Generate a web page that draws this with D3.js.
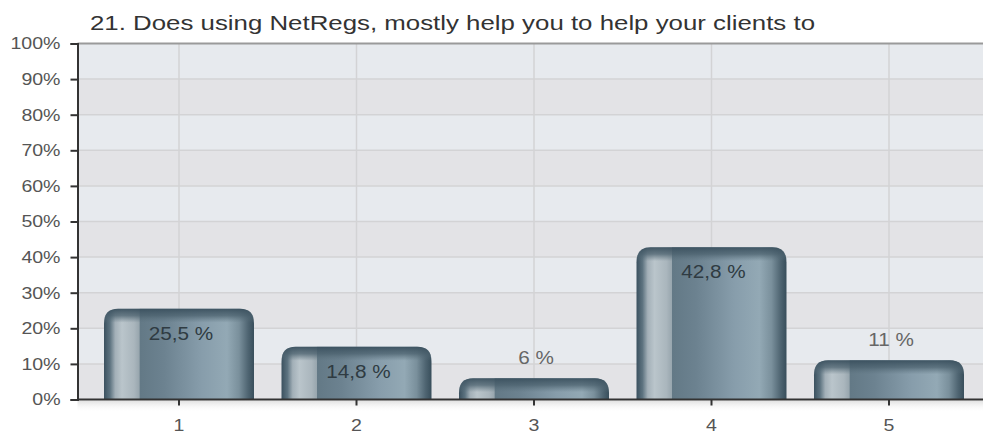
<!DOCTYPE html>
<html><head><meta charset="utf-8">
<script src="https://cdn.jsdelivr.net/npm/d3@7"></script>
<style>
html,body{margin:0;padding:0;background:#fff;}
svg{display:block;font-family:"Liberation Sans",Arial,sans-serif;}
</style></head>
<body>
<svg id="chart" width="983" height="435"></svg>
<script>
const title = "21. Does using NetRegs, mostly help you to help your clients to";
const categories = ["1","2","3","4","5"];
const values = [25.5, 14.8, 6, 42.8, 11];
const valueLabels = ["25,5 %","14,8 %","6 %","42,8 %","11 %"];
const yTicks = [0,10,20,30,40,50,60,70,80,90,100];

(function(){
const svg = d3.select("#chart");
const pLeft = 77.5, pTop = 43.5, pBottom = 399.5, pRight = 983;
const STRETCH = 1.15;
function stretch(sel, factor) {
  sel.each(function(){
    const len = this.getComputedTextLength();
    d3.select(this).attr("textLength", len*factor).attr("lengthAdjust","spacingAndGlyphs");
  });
}

const x = d3.scaleBand().domain(categories).range([90.25, 977.75]).padding(0);
const y = d3.scaleLinear().domain([0,100]).range([pBottom, pTop]);

const defs = svg.append("defs");
const g1 = defs.append("linearGradient").attr("id","barGrad").attr("x1","0").attr("x2","1").attr("y1","0").attr("y2","0");
[[0,"#3b515f"],[0.04,"#5d7380"],[0.075,"#a3b0b8"],[0.12,"#bac5cb"],[0.2,"#aab6bd"],[0.235,"#98a6ae"],[0.24,"#637986"],[0.4,"#6c8290"],[0.65,"#879dab"],[0.82,"#93a9b5"],[0.9,"#7a909c"],[0.96,"#4f6572"],[1,"#384e5b"]]
  .forEach(([o,c]) => g1.append("stop").attr("offset",o).attr("stop-color",c));
const g2 = defs.append("linearGradient").attr("id","capGrad").attr("x1","0").attr("x2","0").attr("y1","0").attr("y2","1");
[[0,"#3a505e",0.95],[0.5,"#4a606d",0.75],[1,"#5a707c",0]].forEach(([o,c,a]) => g2.append("stop").attr("offset",o).attr("stop-color",c).attr("stop-opacity",a));
const g3 = defs.append("linearGradient").attr("id","shadowGrad").attr("x1","0").attr("x2","0").attr("y1","0").attr("y2","1");
[[0,"#d8d8d8",0.8],[1,"#ffffff",0]].forEach(([o,c,a]) => g3.append("stop").attr("offset",o).attr("stop-color",c).attr("stop-opacity",a));

for (let i = 0; i < yTicks.length - 1; i++) {
  svg.append("rect").attr("x", pLeft).attr("width", pRight-pLeft)
    .attr("y", y(yTicks[i+1])).attr("height", y(yTicks[i]) - y(yTicks[i+1]))
    .attr("fill", i % 2 === 1 ? "#e7eaee" : "#e3e3e6");
}
svg.append("g").selectAll("line").data(yTicks.slice(1,-1)).join("line")
  .attr("x1", pLeft).attr("x2", pRight).attr("y1", d=>y(d)).attr("y2", d=>y(d))
  .attr("stroke","#d3d3d5").attr("stroke-width",1.5);
svg.append("g").selectAll("line").data(categories).join("line")
  .attr("x1", d=>x(d)+x.bandwidth()/2).attr("x2", d=>x(d)+x.bandwidth()/2)
  .attr("y1", pTop).attr("y2", pBottom)
  .attr("stroke","#d3d3d5").attr("stroke-width",1.5);
svg.append("line").attr("x1",pLeft).attr("x2",pRight).attr("y1",pTop).attr("y2",pTop).attr("stroke","#9a9a9a").attr("stroke-width",2);
svg.append("rect").attr("x",pLeft).attr("width",pRight-pLeft).attr("y",pBottom+1).attr("height",12).attr("fill","url(#shadowGrad)");

const bw = x.bandwidth() * 0.845;
const r = 15;
function barPath(x0, y0, w, h) {
  const rr = Math.min(r, h, w/2);
  return `M${x0},${y0+h} L${x0},${y0+rr} Q${x0},${y0} ${x0+rr},${y0} L${x0+w-rr},${y0} Q${x0+w},${y0} ${x0+w},${y0+rr} L${x0+w},${y0+h} Z`;
}
const bars = svg.append("g");
categories.forEach((c,i) => {
  const cx = x(c) + x.bandwidth()/2;
  const x0 = cx - bw/2, y0 = y(values[i]), h = pBottom - y0;
  bars.append("path").attr("d", barPath(x0,y0,bw,h)).attr("fill","url(#barGrad)");
  const capH = Math.min(14, h);
  bars.append("path").attr("d", barPath(x0,y0,bw,capH)).attr("fill","url(#capGrad)");
});

const yAxis = d3.axisLeft(y).tickValues(yTicks).tickFormat(d=>d+"%").tickSize(7).tickPadding(10);
const ya = svg.append("g").attr("transform",`translate(${pLeft},0)`).call(yAxis);
ya.select(".domain").attr("stroke","#333").attr("stroke-width",2);
ya.selectAll(".tick line").attr("stroke","#333").attr("stroke-width",2);
ya.selectAll(".tick text").attr("fill","#555").style("font-size","17px").style("font-family","Liberation Sans, Arial, sans-serif");
stretch(ya.selectAll(".tick text"), STRETCH);

const xAxis = d3.axisBottom(x).tickSize(6).tickPadding(13);
const xa = svg.append("g").attr("transform",`translate(0,${pBottom})`).call(xAxis);
xa.select(".domain").remove();
xa.append("line").attr("x1",pLeft).attr("x2",pRight).attr("stroke","#333").attr("stroke-width",2);
xa.selectAll(".tick line").attr("stroke","#333").attr("stroke-width",2);
xa.selectAll(".tick text").attr("fill","#555").style("font-size","17px").style("font-family","Liberation Sans, Arial, sans-serif");
stretch(xa.selectAll(".tick text"), STRETCH);

categories.forEach((c,i) => {
  const cx = x(c) + x.bandwidth()/2 + 2;
  const yt = y(values[i]);
  const inside = values[i] > 13;
  const t = svg.append("text").attr("x", cx).attr("y", inside ? yt + 31 : yt - 14)
    .attr("text-anchor","middle").attr("fill", inside ? "#2f3b42" : "#666")
    .style("font-size","18px").text(valueLabels[i]);
  stretch(t, STRETCH);
});

const tt = svg.append("text").attr("x",90).attr("y",30).attr("fill","#333").style("font-size","20px").text(title);
tt.attr("textLength", 725).attr("lengthAdjust","spacingAndGlyphs");
})();
</script>
</body></html>
